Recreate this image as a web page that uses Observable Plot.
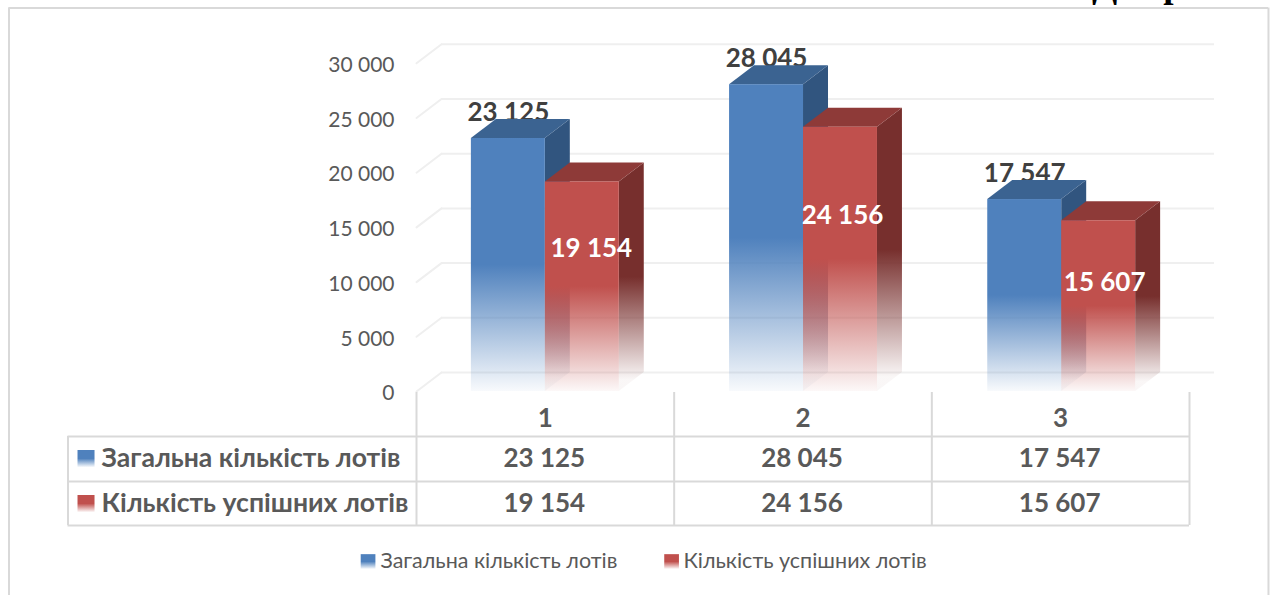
<!DOCTYPE html>
<html lang="uk">
<head>
<meta charset="utf-8">
<script src="https://cdn.jsdelivr.net/npm/d3@7"></script>
<script src="https://cdn.jsdelivr.net/npm/@observablehq/plot@0.6"></script>
<style>html,body{margin:0;padding:0;background:#fff}svg{display:block}</style>
</head>
<body>
<div id="chart"></div>
<script>
const categories = ["1", "2", "3"];
const totalLots = [23125, 28045, 17547];
const successfulLots = [19154, 24156, 15607];
const seriesNames = ["Загальна кількість лотів", "Кількість успішних лотів"];
const axisTicks = [0, 5000, 10000, 15000, 20000, 25000, 30000];
const heading = "Діаграма";

const fmt = v => d3.format(",")(v).replace(/,/g, " ");
const FONT = "Lato, 'Open Sans', sans-serif";
const GRID = "#EFEFEF", BORDER = "#D9D9D9", TEXT = "#595959";

// 3-D depth of the bars and walls, in scale units
const depthX = 0.097, depthY = 1737;
// bar edges inside one category (category = 1 x unit)
const barL = 0.213, barM = 0.5, barR = 0.787;
const slot = i => i * 1.002;
// table and legend layout, in scale units, below the zero line
const tableTop = -91, rowEdges = [-4113, -8227, -12249];
const catY = -2470, rowY = [-6125, -10238], legendY = -15540;
const colEdges = [0, 1, 2, 3];
const tableLeft = -1.3525, keyX = -1.2826, rowLabelX = -1.2225;
const frameL = -1.5815, frameR = 3.3065, frameTop = 35055;
const yMin = -18647, yMax = 35740;

function gradient(id, color, end) {
  const g = d3.create("svg:linearGradient").attr("id", id)
    .attr("x1", 0).attr("y1", 0).attr("x2", 0).attr("y2", 1);
  [[0.5, 1], [end, 0.04]].forEach(([o, a]) =>
    g.append("stop").attr("offset", o).attr("stop-color", color).attr("stop-opacity", a));
  return g.node();
}
const defs = () => {
  const d = d3.create("svg:defs");
  [["blueFront", "#4F81BD", 1], ["blueSide", "#31557F", 0.95],
   ["redFront", "#C0504D", 1], ["redSide", "#772F2D", 0.95]]
    .forEach(([id, c, e]) => d.node().appendChild(gradient(id, c, e)));
  return d.node();
};

function sideFaces(values, xEdge) {
  return values.flatMap((v, i) => [
    {id: i, x: slot(i) + xEdge, y1: 0, y2: v},
    {id: i, x: slot(i) + xEdge + depthX, y1: depthY, y2: v + depthY}
  ]);
}
function topFaces(values, xa, xb) {
  return values.flatMap((v, i) => [
    {id: i, y: v, x1: slot(i) + xa, x2: slot(i) + xb},
    {id: i, y: v + depthY, x1: slot(i) + xa + depthX, x2: slot(i) + xb + depthX}
  ]);
}
function barMarks(values, xa, xb, side, top, front) {
  return [
    Plot.areaY(sideFaces(values, xb), {x: "x", y1: "y1", y2: "y2", z: "id", fill: side}),
    Plot.areaX(topFaces(values, xa, xb), {y: "y", x1: "x1", x2: "x2", z: "id", fill: top}),
    Plot.rect(values, {x1: (d, i) => slot(i) + xa, x2: (d, i) => slot(i) + xb, y1: 0, y2: d => d, fill: front})
  ];
}

const tableFont = {fontSize: 26, fontWeight: 700, fill: TEXT, fontFamily: FONT};
const legendFont = {fontSize: 21.5, fill: TEXT, fontFamily: FONT, textAnchor: "start"};
const redNudge = [[9, -38], [2, -44], [6, -23]];

const chart = Plot.plot({
  width: 1275, height: 595,
  marginLeft: 416, marginRight: 86, marginTop: 0, marginBottom: 0,
  style: {background: "#fff", fontFamily: FONT},
  x: {domain: [0, 3], range: [416, 1189], axis: null},
  y: {domain: [yMin, yMax], range: [595, 0], axis: null},
  marks: [
    defs,
    // heading cut by the top of the picture
    Plot.text([heading], {x: 2.92, y: yMax, dy: -15, text: d => d, fontFamily: "'Liberation Serif', serif",
      fontWeight: 700, fontSize: 37, fill: "#000", style: "letter-spacing:1px"}),
    // outer frame
    Plot.ruleY([frameTop], {x1: frameL, x2: frameR, stroke: BORDER, strokeWidth: 2}),
    Plot.ruleX([frameL, frameR], {y1: yMin, y2: frameTop, stroke: BORDER, strokeWidth: 2}),
    // back wall and left wall gridlines
    Plot.ruleY(axisTicks, {x1: depthX, x2: 3 + depthX, y: d => d + depthY, stroke: GRID, strokeWidth: 2}),
    Plot.line(axisTicks.flatMap(t => [{t, x: 0, y: t}, {t, x: depthX, y: t + depthY}]),
      {x: "x", y: "y", z: "t", stroke: GRID, strokeWidth: 2}),
    Plot.axisY({ticks: axisTicks, tickSize: 0, tickPadding: 22, tickFormat: fmt, label: null, dy: 2,
      fontSize: 21, color: TEXT, fontFamily: FONT}),
    // data labels behind the bars
    Plot.text(totalLots, {x: (d, i) => slot(i) + (barL + barM) / 2, y: d => d, dy: -26, text: fmt,
      fontSize: 26, fontWeight: 700, fill: "#404040", fontFamily: FONT}),
    ...barMarks(totalLots, barL, barM, "url(#blueSide)", "#3B6391", "url(#blueFront)"),
    ...barMarks(successfulLots, barM, barR, "url(#redSide)", "#8E3A38", "url(#redFront)"),
    ...successfulLots.map((v, i) => Plot.text([v], {
      x: slot(i) + (barM + barR) / 2, y: v / 2, dx: redNudge[i][0], dy: redNudge[i][1], text: fmt,
      fontSize: 26, fontWeight: 700, fill: "#fff", fontFamily: FONT})),
    // data table
    Plot.ruleX(colEdges, {y1: rowEdges[2], y2: tableTop, stroke: BORDER, strokeWidth: 2}),
    Plot.ruleX([tableLeft], {y1: rowEdges[2], y2: rowEdges[0], stroke: BORDER, strokeWidth: 2}),
    Plot.ruleY(rowEdges, {x1: tableLeft, x2: 3, stroke: BORDER, strokeWidth: 2}),
    Plot.text(categories, {x: (d, i) => i + 0.5, y: catY, text: d => d, ...tableFont}),
    Plot.text(totalLots, {x: (d, i) => i + 0.5, y: rowY[0], dx: -1, text: fmt, ...tableFont}),
    Plot.text(successfulLots, {x: (d, i) => i + 0.5, y: rowY[1], dx: -1, text: fmt, ...tableFont}),
    Plot.text(seriesNames, {x: rowLabelX, y: (d, i) => rowY[i], text: d => d, ...tableFont, fontSize: 26.6, textAnchor: "start"}),
    Plot.dot(seriesNames, {x: keyX, y: (d, i) => rowY[i], symbol: "square", r: 9.6,
      fill: (d, i) => ["url(#blueFront)", "url(#redFront)"][i]}),
    // legend
    Plot.dot(seriesNames, {x: (d, i) => [-0.188, 0.99][i], y: legendY, symbol: "square", r: 8.3,
      fill: (d, i) => ["url(#blueFront)", "url(#redFront)"][i]}),
    Plot.text(seriesNames, {x: (d, i) => [-0.14, 1.036][i], y: legendY, text: d => d, ...legendFont})
  ]
});
document.getElementById("chart").appendChild(chart);
</script>
</body>
</html>
